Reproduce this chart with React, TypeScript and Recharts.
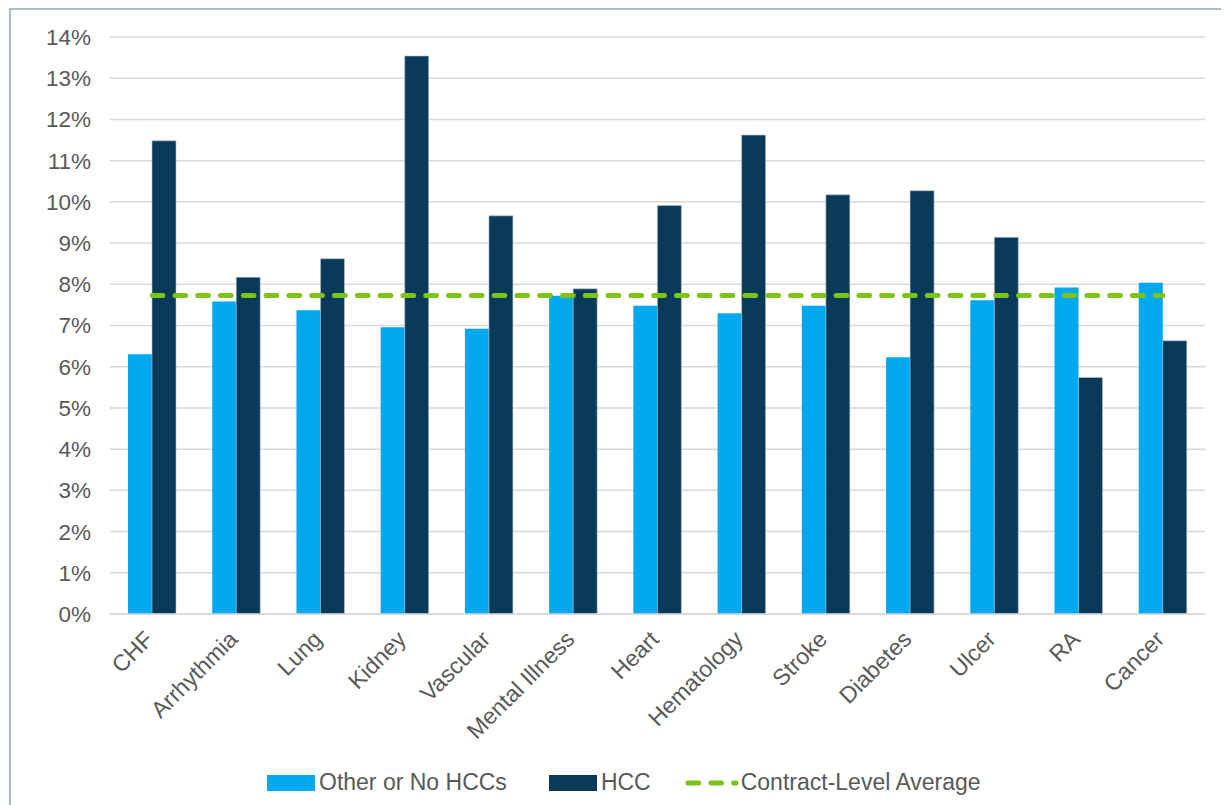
import React from 'react';
import { ComposedChart, Bar, Line, XAxis, YAxis, CartesianGrid } from 'recharts';

const categories = ['CHF', 'Arrhythmia', 'Lung', 'Kidney', 'Vascular', 'Mental Illness', 'Heart', 'Hematology', 'Stroke', 'Diabetes', 'Ulcer', 'RA', 'Cancer'];
const otherValues = [6.30, 7.58, 7.37, 6.96, 6.92, 7.72, 7.48, 7.30, 7.48, 6.23, 7.61, 7.92, 8.04];
const hccValues = [11.48, 8.17, 8.62, 13.54, 9.66, 7.89, 9.91, 11.62, 10.17, 10.27, 9.14, 5.74, 6.63];
const contractAverage = 7.73;
const yTicks = [0, 1, 2, 3, 4, 5, 6, 7, 8, 9, 10, 11, 12, 13, 14];

const LIGHT = '#00A8EF';
const DARK = '#0A3A5A';
const GREEN = '#7CC516';
const TEXT = '#595959';
const FONT = '"Liberation Sans", Arial, sans-serif';

const chartData = categories.map((name, i) => ({
  name,
  other: otherValues[i],
  hcc: hccValues[i],
  avg: contractAverage,
}));

function RotatedTick(props: any) {
  const { x, y, payload } = props;
  const ax = x - 3;
  const ay = y + 13;
  return (
    <text
      x={ax}
      y={ay}
      transform={`rotate(-45, ${ax}, ${ay})`}
      textAnchor="end"
      dy="0.35em"
      fill={TEXT}
      fontSize={23}
      fontFamily={FONT}
    >
      {payload.value}
    </text>
  );
}

function ChartLegend() {
  const item = { display: 'flex', alignItems: 'center' } as const;
  const label = { fontSize: 23, color: TEXT, fontFamily: FONT, marginLeft: 4 };
  return (
    <div style={{ position: 'absolute', left: 259, top: 761, display: 'flex', alignItems: 'center' }}>
      <div style={item}>
        <div style={{ width: 48, height: 16, background: LIGHT }} />
        <span style={label}>Other or No HCCs</span>
      </div>
      <div style={{ ...item, marginLeft: 42 }}>
        <div style={{ width: 48, height: 16, background: DARK }} />
        <span style={label}>HCC</span>
      </div>
      <div style={{ ...item, marginLeft: 34 }}>
        <svg width={54} height={16}>
          <line x1={3} y1={8} x2={51} y2={8} stroke={GREEN} strokeWidth={5} strokeDasharray="10.7 12.1" strokeLinecap="round" />
        </svg>
        <span style={{ ...label, marginLeft: 2 }}>Contract-Level Average</span>
      </div>
    </div>
  );
}

export default function App() {
  return (
    <div style={{ position: 'relative', width: 1221, height: 797, overflow: 'hidden', background: '#fff' }}>
      <div
        style={{
          position: 'absolute',
          left: 1,
          top: 0,
          width: 1260,
          height: 840,
          border: '2px solid #A9BDCB',
          boxSizing: 'border-box',
        }}
      />
      <ComposedChart
        width={1221}
        height={797}
        data={chartData}
        margin={{ top: 29, right: 24, left: 0, bottom: 0 }}
        barGap={0}
      >
        <CartesianGrid vertical={false} stroke="#D9D9D9" strokeWidth={1.5} />
        <XAxis
          dataKey="name"
          height={191}
          interval={0}
          axisLine={{ stroke: '#D9D9D9', strokeWidth: 1.5 }}
          tickLine={false}
          tick={<RotatedTick />}
        />
        <YAxis
          width={102}
          domain={[0, 14]}
          ticks={yTicks}
          interval={0}
          axisLine={false}
          tickLine={false}
          tickMargin={13}
          tickFormatter={(v: number) => `${v}%`}
          tick={{ fill: TEXT, fontSize: 22.5, fontFamily: FONT }}
        />
        <Bar dataKey="other" name="Other or No HCCs" fill={LIGHT} barSize={24} isAnimationActive={false} />
        <Bar dataKey="hcc" name="HCC" fill={DARK} stroke="#B8C8D6" strokeWidth={0.6} barSize={24} isAnimationActive={false} />
        <Line
          dataKey="avg"
          name="Contract-Level Average"
          stroke={GREEN}
          strokeWidth={5}
          strokeDasharray="10.7 12.1"
          strokeLinecap="round"
          dot={false}
          activeDot={false}
          isAnimationActive={false}
        />
      </ComposedChart>
      <ChartLegend />
    </div>
  );
}
